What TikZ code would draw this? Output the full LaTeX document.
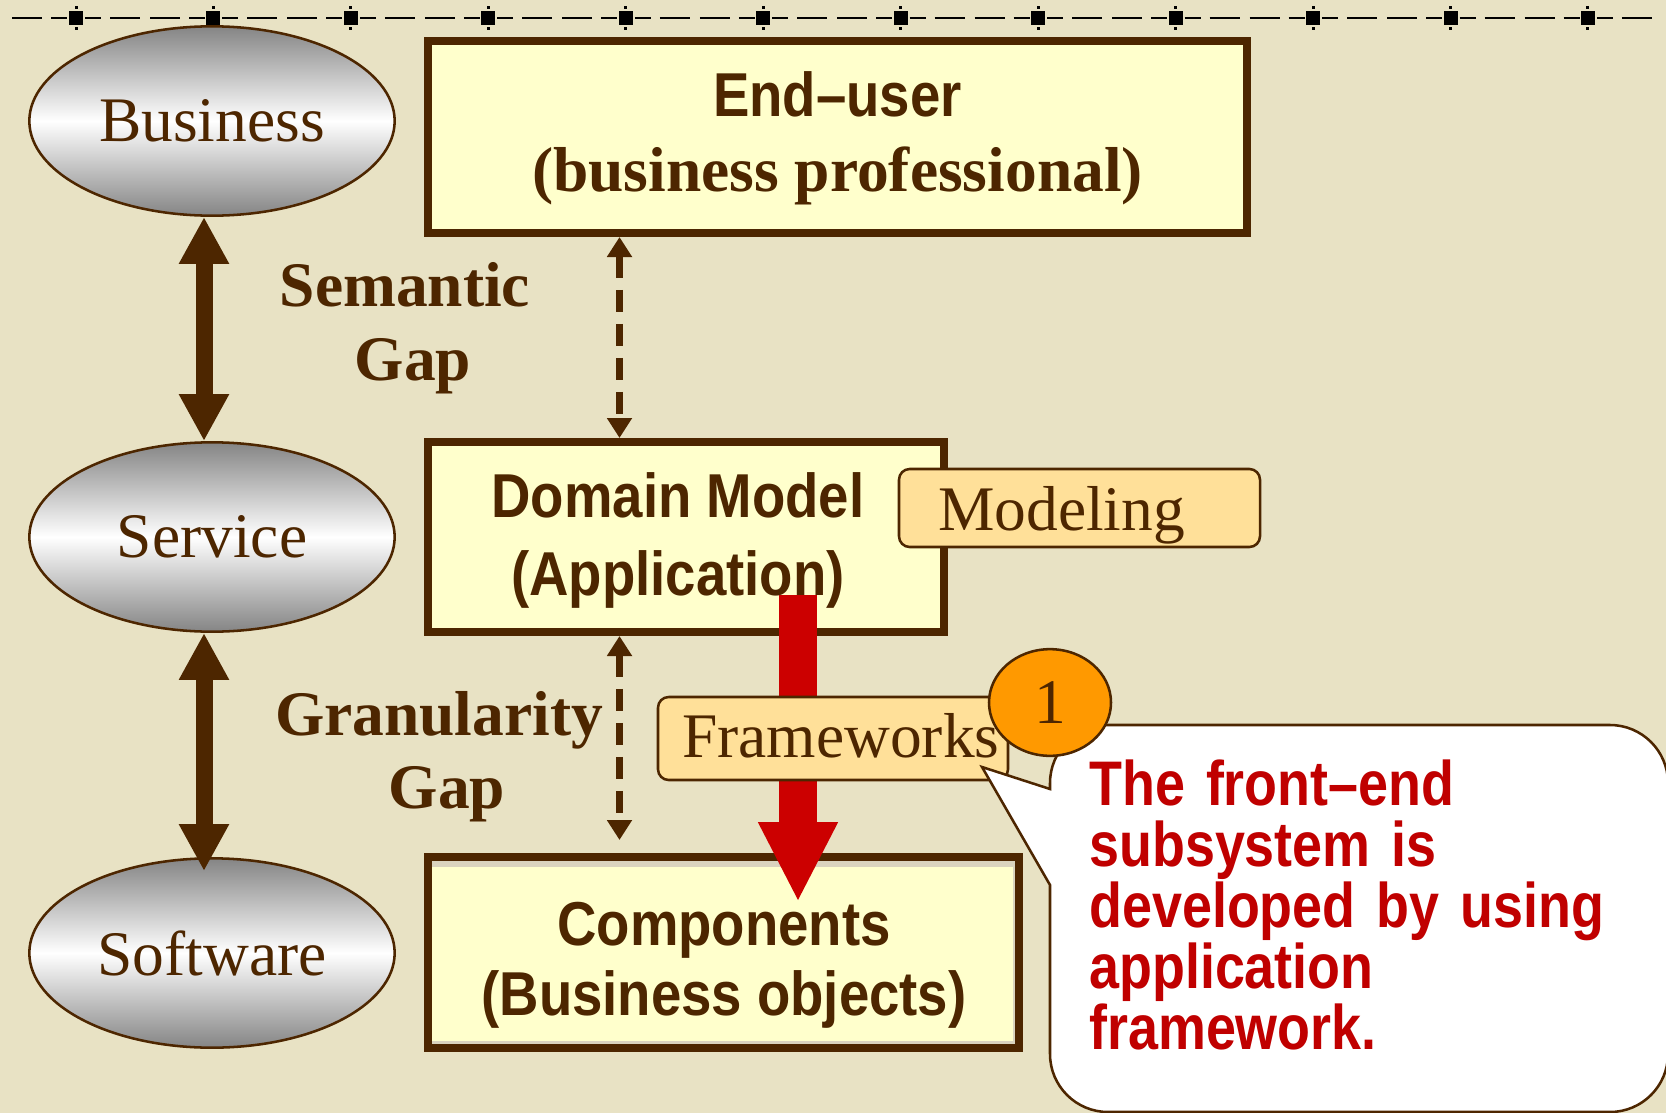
\documentclass[tikz,border=0pt]{standalone}
\usepackage{fontspec}
\setmainfont{Liberation Serif}
\newfontfamily\gothic{Liberation Sans}[FakeStretch=0.88]
\newfontfamily\gothicnarrow{Liberation Sans}[FakeStretch=0.855]
\usetikzlibrary{arrows.meta,shapes.geometric}

\definecolor{paper}{RGB}{232,226,196}
\definecolor{umber}{RGB}{77,38,0}
\definecolor{cream}{RGB}{255,255,204}
\definecolor{labelfill}{RGB}{255,224,153}
\definecolor{amber}{RGB}{255,153,0}
\definecolor{signal}{RGB}{204,0,0}
\definecolor{notered}{RGB}{192,0,0}
\definecolor{band}{RGB}{218,211,190}

\tikzset{
  oval/.style={ellipse, draw=umber, line width=1.9pt, inner sep=0pt,
    minimum width=274pt, minimum height=142pt,
    top color=black!48, bottom color=black!48, middle color=white,
    font=\fontsize{47.6}{57}\selectfont, text=umber},
  layerbox/.style={draw=umber, line width=6pt, fill=cream, inner sep=0pt},
  tag/.style={draw=umber, line width=1.9pt, fill=labelfill, rounded corners=8pt, inner sep=0pt},
  serifreg/.style={font=\fontsize{47.6}{57}\selectfont, text=umber, inner sep=0pt},
  serifbold/.style={font=\bfseries\fontsize{47.6}{57}\selectfont, text=umber, inner sep=0pt},
  gothtext/.style={font=\gothic\bfseries\fontsize{46.5}{56}\selectfont, text=umber, inner sep=0pt},
  notetext/.style={font=\gothicnarrow\bfseries\fontsize{47.25}{45.75}\selectfont, text=notered,
    inner sep=0pt, align=left, text width=420pt},
  thickarrow/.style={draw=umber, line width=12.75pt,
    arrows={Triangle[width=35.25pt,length=35.25pt]-Triangle[width=35.25pt,length=35.25pt]}},
  gaparrow/.style={draw=umber, line width=5.25pt, dash pattern=on 16.5pt off 9pt,
    arrows={Triangle[width=18pt,length=15pt]-Triangle[width=18pt,length=15pt]}},
  signalarrow/.style={draw=signal, line width=28.5pt,
    arrows={-Triangle[width=55.5pt,length=60pt]}},
  rulerdash/.style={draw=black, line width=2.1pt}
}

\begin{document}
\begin{tikzpicture}[x=0.75pt,y=-0.75pt]
\useasboundingbox (0,0) rectangle (1666,1113);
\fill[paper] (0,0) rectangle (1666,1113);
\clip (0,0) rectangle (1666,1113);

% dashed ruler with handle marks along the top
\draw[rulerdash] (12,18) -- (42,18);
\draw[rulerdash] (51,18) -- (67,18);
\foreach \k in {0,...,11}{
  \pgfmathsetmacro{\cx}{76+137.45*\k}
  \fill[black] (\cx-7,11) rectangle (\cx+7,25);
  \fill[black] (\cx-1.5,6) rectangle (\cx+1.5,9);
  \fill[black] (\cx-1.5,27) rectangle (\cx+1.5,30);
  \draw[rulerdash] (\cx+9,18) -- (\cx+25,18);
  \draw[rulerdash] (\cx+34,18) -- (\cx+64,18);
}
\foreach \k in {0,...,10}{
  \pgfmathsetmacro{\cx}{76+137.45*\k}
  \draw[rulerdash] (\cx+74,18) -- (\cx+104,18);
  \draw[rulerdash] (\cx+113,18) -- (\cx+129,18);
}

% abstraction levels
\node[oval] (bus) at (212,121) {Business};
\node[oval] (svc) at (212,537) {Service};
\node[oval] (sw) at (212,953) {Software};

\draw[thickarrow] ([xshift=-6pt]bus.south) -- ([xshift=-6pt]svc.north);
\draw[thickarrow] ([xshift=-6pt]svc.south) -- ([xshift=-6pt,yshift=-10.5pt]sw.north);

\node[serifbold, anchor=base] (semA) at (405,306) {Semantic};
\node[serifbold, anchor=base] (semB) at (413,380) {Gap};
\node[serifbold, anchor=base] (graA) at (439,735) {Granularity};
\node[serifbold, anchor=base] (graB) at (447,808) {Gap};

% layer boxes
\node[layerbox, minimum width=614.25pt, minimum height=144pt] (end) at (837.5,137) {};
\node[layerbox, minimum width=387pt, minimum height=142.5pt] (dom) at (686,537) {};
\node[layerbox, fill=band, minimum width=443.25pt, minimum height=143.25pt] (cmp) at (723.5,952.5) {};
\fill[cream] (432,867) rectangle (1013,1041);

\node[gothtext, anchor=base] (endA) at (837.5,117) {End–user};
\node[serifbold, anchor=base] (endB) at (837.5,191) {(business professional)};
\node[gothtext, anchor=base] (domA) at (678,517) {Domain Model};
\node[gothtext, anchor=base] (domB) at (678,595) {(Application)};
\node[gothtext, anchor=base] (cmpA) at (724,945) {Components};
\node[gothtext, anchor=base] (cmpB) at (724,1015) {(Business objects)};

% gaps between layers
\coordinate (dx) at (619.5,0);
\coordinate (gapend) at (619.5,840);
\draw[gaparrow] (dx |- end.south) -- (dx |- dom.north);
\draw[gaparrow] (dx |- dom.south) -- (gapend);

% development path from the domain model to components
\coordinate (rtop) at (798,595);
\coordinate (rtip) at (798,902);
\draw[signalarrow] (rtop) -- (rtip);

% labels
\node[tag, minimum width=270.75pt, minimum height=58.5pt] (mod) at (1079.5,508) {};
\node[serifreg, anchor=base west] (modT) at (938,530) {Modeling};
\node[tag, minimum width=262.5pt, minimum height=62.25pt] (fw) at (833,738.5) {};
\node[serifreg, anchor=base west] (fwT) at (682,757) {Frameworks};

% speech balloon
\coordinate (tip) at (982,767);
\filldraw[draw=umber, line width=1.9pt, fill=white]
  (tip) -- (1050,789) -- (1050,783)
  .. controls (1050,751) and (1076,725) .. (1108,725) -- (1610,725)
  .. controls (1642,725) and (1668,751) .. (1668,783) -- (1668,1054)
  .. controls (1668,1086) and (1642,1112) .. (1610,1112) -- (1108,1112)
  .. controls (1076,1112) and (1050,1086) .. (1050,1054) -- (1050,885) -- cycle;

\node[ellipse, draw=umber, line width=1.9pt, fill=amber, minimum width=91.5pt,
  minimum height=80pt, inner sep=0pt, serifreg] (one) at (1050,702.5) {1};

\node[notetext, anchor=base west] (noteT) at (1089,805)
  {The front–end\\subsystem is\\developed by using\\application\\framework.};
\end{tikzpicture}
\end{document}
